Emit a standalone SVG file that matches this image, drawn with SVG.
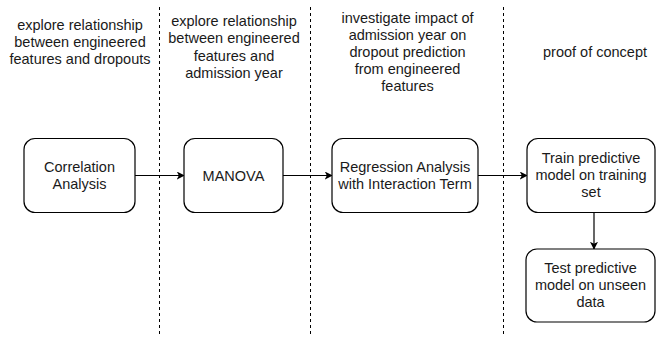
<svg xmlns="http://www.w3.org/2000/svg" width="657" height="337" viewBox="0 0 657 337">
<defs>
<style>
text{font-family:"Liberation Sans",Arial,sans-serif;font-size:14.5px;fill:#1a1a1a;text-anchor:middle}
.box{fill:#fff;stroke:#000;stroke-width:1.2}
.div{stroke:#000;stroke-width:1;stroke-dasharray:3 3;fill:none}
.edge{stroke:#000;stroke-width:1.2;fill:none}
</style>
<marker id="ah" viewBox="0 0 10 10" refX="9" refY="5" markerWidth="8" markerHeight="8" markerUnits="userSpaceOnUse" orient="auto">
<path d="M0,0 L10,5 L0,10 L2.5,5 Z" fill="#000"/>
</marker>
</defs>
<rect width="657" height="337" fill="#fff"/>
<g id="dividers">
<line class="div" x1="159.5" y1="7" x2="159.5" y2="337"/>
<line class="div" x1="310.5" y1="7" x2="310.5" y2="337"/>
<line class="div" x1="503.5" y1="7" x2="503.5" y2="337"/>
</g>
<g id="headers">
<text x="80" y="29.5">explore relationship</text>
<text x="80" y="46.7">between engineered</text>
<text x="80" y="63.5">features and dropouts</text>
<text x="234" y="26">explore relationship</text>
<text x="234" y="43.3">between engineered</text>
<text x="234" y="60.6">features and</text>
<text x="234" y="77.9">admission year</text>
<text x="407.5" y="23.3">investigate impact of</text>
<text x="407.5" y="40.3">admission year on</text>
<text x="407.5" y="57.3">dropout prediction</text>
<text x="407.5" y="74.3">from engineered</text>
<text x="407.5" y="91.3">features</text>
<text x="595" y="57.3">proof of concept</text>
</g>
<g id="connectors">
<line class="edge" x1="135" y1="175.5" x2="184" y2="175.5" marker-end="url(#ah)"/>
<line class="edge" x1="283" y1="175.5" x2="332" y2="175.5" marker-end="url(#ah)"/>
<line class="edge" x1="478" y1="175.5" x2="527" y2="175.5" marker-end="url(#ah)"/>
<line class="edge" x1="594" y1="212" x2="594" y2="249" marker-end="url(#ah)"/>
</g>
<g id="correlation">
<rect class="box" x="24" y="138.5" width="111" height="74" rx="11"/>
<text x="79.5" y="171.7">Correlation</text>
<text x="79.5" y="188.5">Analysis</text>
</g>
<g id="manova">
<rect class="box" x="184" y="138.5" width="99" height="74" rx="11"/>
<text x="233.5" y="181">MANOVA</text>
</g>
<g id="regression">
<rect class="box" x="332" y="138.5" width="146" height="74" rx="11"/>
<text x="405" y="171.7">Regression Analysis</text>
<text x="405" y="188.5">with Interaction Term</text>
</g>
<g id="train">
<rect class="box" x="527" y="138.5" width="128" height="74" rx="11"/>
<text x="591" y="163.3">Train predictive</text>
<text x="591" y="180.3">model on training</text>
<text x="591" y="197.3">set</text>
</g>
<g id="test">
<rect class="box" x="526" y="249" width="129" height="73" rx="11"/>
<text x="590.5" y="273.3">Test predictive</text>
<text x="590.5" y="290.3">model on unseen</text>
<text x="590.5" y="307.3">data</text>
</g>
</svg>
